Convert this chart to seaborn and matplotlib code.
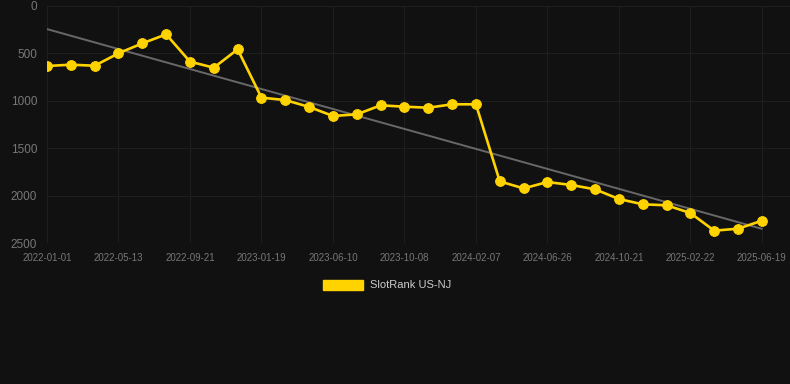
import numpy as np
import pandas as pd
import matplotlib
matplotlib.use("Agg")
import matplotlib.pyplot as plt
import matplotlib.patches as mpatches
import seaborn as sns

# rank values (lower rank = better, axis inverted)
ranks = [633, 619, 630, 499, 394, 299, 587, 651, 457, 967,
         992, 1065, 1160, 1143, 1048, 1062, 1073, 1037, 1037, 1850,
         1924, 1857, 1888, 1934, 2036, 2092, 2102, 2184, 2370, 2349,
         2265]
tick_labels = ["2022-01-01", "2022-05-13", "2022-09-21", "2023-01-19",
               "2023-06-10", "2023-10-08", "2024-02-07", "2024-06-26",
               "2024-10-21", "2025-02-22", "2025-06-19"]
y_ticks = [0, 500, 1000, 1500, 2000, 2500]
series_name = "SlotRank US-NJ"

BG = "#111111"
GOLD = "#FFD300"
TICK = "#777777"

sns.set_theme(style="dark")
plt.rcParams["font.family"] = ["Liberation Sans", "DejaVu Sans"]

df = pd.DataFrame({"idx": np.arange(len(ranks)), "rank": ranks})

fig = plt.figure(figsize=(7.9, 3.84), dpi=100, facecolor=BG)
ax = fig.add_axes([47 / 790, 1 - 243 / 384, 743 / 790, 237 / 384])
ax.set_facecolor(BG)

# trend line (least squares fit of the data)
coef = np.polyfit(df["idx"], df["rank"], 1)
df["trend"] = np.polyval(coef, df["idx"])
sns.lineplot(data=df, x="idx", y="trend", ax=ax, color="#686868",
             linewidth=1.4, zorder=2)

sns.lineplot(data=df, x="idx", y="rank", ax=ax, color=GOLD,
             linewidth=1.9, marker="o", markersize=7,
             markeredgecolor=GOLD, zorder=3)

ax.set_xlim(0, (790 - 47) / 23.83)
ax.set_ylim(2500, 0)
ax.set_xticks(np.arange(0, len(ranks), 3))
ax.set_xticklabels(tick_labels)
ax.set_yticks(y_ticks)
ax.set_yticklabels([str(v) for v in y_ticks])
ax.tick_params(axis="x", colors=TICK, labelsize=7, length=0, pad=7)
ax.tick_params(axis="y", colors=TICK, labelsize=8.5, length=0, pad=7)
ax.grid(True, color="#1e1e1e", linewidth=0.8)
ax.set_xlabel("")
ax.set_ylabel("")
for s in ax.spines.values():
    s.set_visible(False)

handle = mpatches.Patch(color=GOLD, label=series_name)
fig.legend(handles=[handle], loc="center", bbox_to_anchor=(387 / 790, 1 - 285 / 384),
           frameon=False, fontsize=8, labelcolor="#cccccc",
           handlelength=3.6, handleheight=1.0, handletextpad=0.6)

fig.savefig("out.png", dpi=100, facecolor=BG)
